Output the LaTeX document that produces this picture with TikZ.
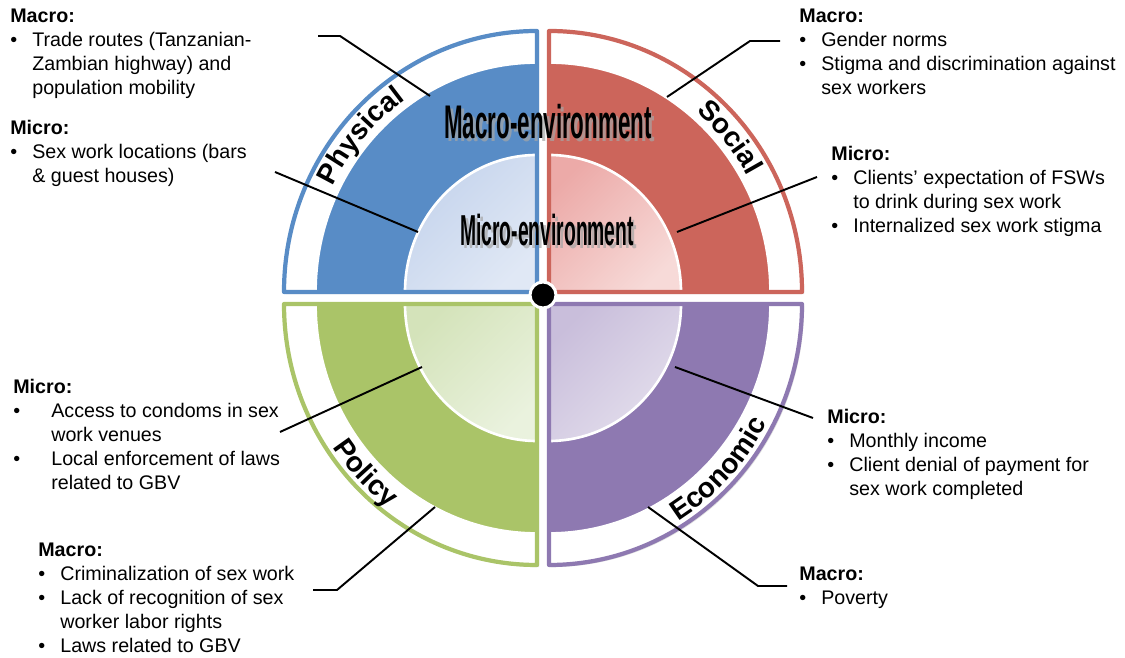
\documentclass[tikz,border=0pt]{standalone}
\usepackage{fontspec}
\setmainfont{Liberation Sans}
\usepackage{tikz}
\usetikzlibrary{decorations.text,shadows}

\definecolor{physC}{RGB}{88,140,198}
\definecolor{physL}{RGB}{196,211,236}
\definecolor{physLL}{RGB}{224,232,245}
\definecolor{socC}{RGB}{204,101,91}
\definecolor{socL}{RGB}{236,170,168}
\definecolor{socLL}{RGB}{247,218,216}
\definecolor{polC}{RGB}{170,196,104}
\definecolor{polL}{RGB}{212,227,186}
\definecolor{polLL}{RGB}{234,242,222}
\definecolor{ecoC}{RGB}{142,121,177}
\definecolor{ecoL}{RGB}{201,190,219}
\definecolor{ecoLL}{RGB}{228,223,237}

\newcommand{\bul}{\makebox[0.44cm][l]{•}}
\newcommand{\ind}{\hspace*{0.44cm}}
\newcommand{\bulw}{\makebox[0.76cm][l]{•}}
\newcommand{\indw}{\hspace*{0.76cm}}
\newcommand{\sidefont}{\fontsize{16}{16}\selectfont\bfseries}
\newcommand{\macroword}{\scalebox{0.53}[1.12]{\fontsize{24}{24}\selectfont\bfseries Macro-environment}}
\newcommand{\microword}{\scalebox{0.5}[1.12]{\fontsize{22}{22}\selectfont\bfseries Micro-environment}}

\tikzset{
  rim/.style={draw=#1, line width=2.4pt, line join=round},
  ringfill/.style={fill=white, drop shadow={opacity=0.25, shadow xshift=1.2pt, shadow yshift=-1.2pt}},
  macrofill/.style={fill=#1, draw=white, line width=1pt},
  microfill/.style 2 args={draw=white, line width=1.5pt, top color=#1, bottom color=#2, shading angle=45},
  side/.style={decorate, decoration={text along path, text align=center, text={|\sidefont|#1}}},
  envtxt/.style={inner sep=0pt},
  envshade/.style={inner sep=0pt, text=black!35, opacity=0.7},
  hub/.style={circle, fill=black, draw=white, line width=1.7pt, minimum size=0.52cm, inner sep=0pt},
  list/.style={inner sep=0pt, anchor=north west, align=left, font=\fontsize{11.2}{13.66}\selectfont},
  lead/.style={draw=black, line width=1.1pt},
}

\begin{document}
\begin{tikzpicture}[x=0.02cm, y=0.02cm]
\useasboundingbox (0,0) rectangle (1125,658);

\coordinate (physO) at (537,366);
\coordinate (socO) at (549,366);
\coordinate (polO) at (537,354);
\coordinate (ecoO) at (549,354);

% physical
\path[ringfill] (physO) -- ++(-253,0) arc[start angle=180, end angle=90, x radius=253, y radius=261] -- cycle;
\path[macrofill=physC] (physO) -- ++(-221,0) arc[start angle=180, end angle=90, x radius=221, y radius=229] -- cycle;
\path[microfill={physL}{physLL}] (physO) -- ++(-132,0) arc[start angle=180, end angle=90, x radius=132, y radius=137] -- cycle;
\draw[rim=physC] (physO) -- ++(-253,0) arc[start angle=180, end angle=90, x radius=253, y radius=261] -- cycle;

% social
\path[ringfill] (socO) -- ++(253,0) arc[start angle=0, end angle=90, x radius=253, y radius=261] -- cycle;
\path[macrofill=socC] (socO) -- ++(221,0) arc[start angle=0, end angle=90, x radius=221, y radius=229] -- cycle;
\path[microfill={socL}{socLL}] (socO) -- ++(132,0) arc[start angle=0, end angle=90, x radius=132, y radius=137] -- cycle;
\draw[rim=socC] (socO) -- ++(253,0) arc[start angle=0, end angle=90, x radius=253, y radius=261] -- cycle;

% policy
\path[ringfill] (polO) -- ++(-253,0) arc[start angle=180, end angle=270, x radius=253, y radius=261] -- cycle;
\path[macrofill=polC] (polO) -- ++(-221,0) arc[start angle=180, end angle=270, x radius=221, y radius=229] -- cycle;
\path[microfill={polL}{polLL}] (polO) -- ++(-132,0) arc[start angle=180, end angle=270, x radius=132, y radius=137] -- cycle;
\draw[rim=polC] (polO) -- ++(-253,0) arc[start angle=180, end angle=270, x radius=253, y radius=261] -- cycle;

% economic
\path[ringfill] (ecoO) -- ++(253,0) arc[start angle=0, end angle=-90, x radius=253, y radius=261] -- cycle;
\path[macrofill=ecoC] (ecoO) -- ++(221,0) arc[start angle=0, end angle=-90, x radius=221, y radius=229] -- cycle;
\path[microfill={ecoL}{ecoLL}] (ecoO) -- ++(132,0) arc[start angle=0, end angle=-90, x radius=132, y radius=137] -- cycle;
\draw[rim=ecoC] (ecoO) -- ++(253,0) arc[start angle=0, end angle=-90, x radius=253, y radius=261] -- cycle;

\path[side=Physical] (physO) ++(179:228 and 236) arc[start angle=179, end angle=99, x radius=228, y radius=236];
\path[side=Social] (socO) ++(80:228 and 236) arc[start angle=80, end angle=0, x radius=228, y radius=236];
\path[side=Policy] (polO) ++(184:247 and 255) arc[start angle=184, end angle=264, x radius=247, y radius=255];
\path[side=Economic] (ecoO) ++(276:247 and 255) arc[start angle=276, end angle=357, x radius=247, y radius=255];

\node[envshade] at (551,533) {\macroword};
\node[envtxt] (macroEnv) at (548,536) {\macroword};
\node[envshade] at (550,425) {\microword};
\node[envtxt] (microEnv) at (547,428) {\microword};

\node[hub] (hub) at (543,363) {};

\node[list] (physMa) at (10,649) {\textbf{Macro:}\\ \bul Trade routes (Tanzanian-\\ \ind Zambian highway) and\\ \ind population mobility};
\node[list] (physMi) at (10,538) {\textbf{Micro:}\\ \bul Sex work locations (bars\\ \ind \& guest houses)};
\node[list] (socMa) at (799,649) {\textbf{Macro:}\\ \bul Gender norms\\ \bul Stigma and discrimination against\\ \ind sex workers};
\node[list] (socMi) at (831,512) {\textbf{Micro:}\\ \bul Clients’ expectation of FSWs\\ \ind to drink during sex work\\ \bul Internalized sex work stigma};
\node[list] (polMi) at (13,279) {\textbf{Micro:}\\ \bulw Access to condoms in sex\\ \indw work venues\\ \bulw Local enforcement of laws\\ \indw related to GBV};
\node[list] (polMa) at (38,115) {\textbf{Macro:}\\ \bul Criminalization of sex work\\ \bul Lack of recognition of sex\\ \ind worker labor rights\\ \bul Laws related to GBV};
\node[list] (ecoMi) at (827,249) {\textbf{Micro:}\\ \bul Monthly income\\ \bul Client denial of payment for\\ \ind sex work completed};
\node[list] (ecoMa) at (799,91) {\textbf{Macro:}\\ \bul Poverty};

\coordinate (physMaA) at (318,622);
\coordinate (physMaB) at (430,562);
\coordinate (physMiA) at (275,486);
\coordinate (physMiB) at (418,426);
\coordinate (socMaA) at (780,617);
\coordinate (socMaB) at (667,561);
\coordinate (socMiA) at (817,481);
\coordinate (socMiB) at (677,426);
\coordinate (polMiA) at (280,226);
\coordinate (polMiB) at (422,291);
\coordinate (polMaA) at (313,68);
\coordinate (polMaB) at (435,151);
\coordinate (ecoMiA) at (813,240);
\coordinate (ecoMiB) at (675,291);
\coordinate (ecoMaA) at (787,72);
\coordinate (ecoMaB) at (648,151);

\draw[lead] (physMaA) -- ++(22,0) -- (physMaB);
\draw[lead] (physMiA) -- (physMiB);
\draw[lead] (socMaA) -- ++(-30,0) -- (socMaB);
\draw[lead] (socMiA) -- (socMiB);
\draw[lead] (polMiA) -- (polMiB);
\draw[lead] (polMaA) -- ++(24,0) -- (polMaB);
\draw[lead] (ecoMiA) -- (ecoMiB);
\draw[lead] (ecoMaA) -- ++(-29,0) -- (ecoMaB);
\end{tikzpicture}
\end{document}
